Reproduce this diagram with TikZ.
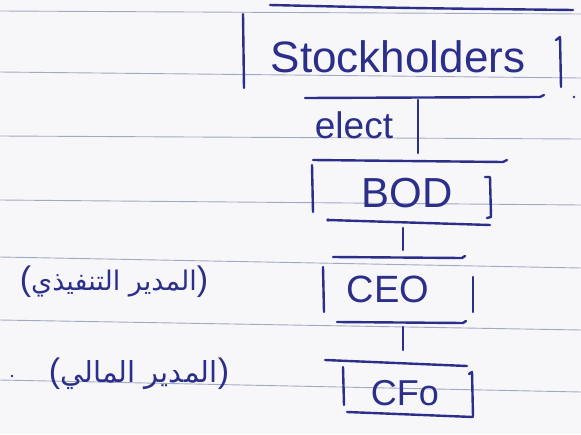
\documentclass[tikz,border=0pt]{standalone}
\usepackage{fontspec}
\setmainfont{Liberation Sans}
\newfontfamily\arabicfont[Script=Arabic]{DejaVu Sans}
\TeXXeTstate=1
\definecolor{ink}{HTML}{2B2F8A}
\definecolor{ruling}{HTML}{A3A8C2}
\definecolor{paper}{HTML}{F7F7F9}
\newcommand{\lpar}{{\rmfamily\fontsize{34}{36}\selectfont(}}
\newcommand{\rpar}{{\rmfamily\fontsize{34}{36}\selectfont)}}
\tikzset{
  inkline/.style={draw=ink, line width=2.4pt, line cap=round, line join=round},
  ruled/.style={draw=ruling, line width=0.9pt},
  hand/.style={text=ink, inner sep=0pt, anchor=base},
  arlabel/.style={text=ink, inner sep=0pt, anchor=center}
}
\begin{document}
\begin{tikzpicture}[x=1pt,y=-1pt]
\fill[paper] (0,0) rectangle (581,434);
\useasboundingbox (0,0) rectangle (581,434);
% notebook ruling
\draw[ruled] (0,11) -- (581,14);
\draw[ruled] (0,72) -- (581,78);
\draw[ruled] (0,136) -- (581,139);
\draw[ruled] (0,200) -- (581,205);
\draw[ruled] (0,257) -- (581,268);
\draw[ruled] (0,320) -- (581,330);
\draw[ruled] (0,380) -- (581,392);

% text nodes
\node[hand, font=\fontsize{44}{48}\selectfont] (sh) at (398,72) {Stockholders};
\node[hand, font=\fontsize{37}{40}\selectfont] (elect) at (354,138) {elect};
\node[hand, font=\fontsize{42}{46}\selectfont] (bod) at (407,207) {BOD};
\node[hand, font=\fontsize{38}{40}\selectfont] (ceo) at (388,302) {CEO};
\node[hand, font=\fontsize{36}{40}\selectfont] (cfo) at (405,405) {CFo};
\node[arlabel] (ar1) at (114,282) {\lpar{\arabicfont\fontsize{27}{30}\selectfont\beginR المدير التنفيذي\endR}\rpar};
\node[arlabel] (ar2) at (139,374) {\lpar{\arabicfont\fontsize{29}{32}\selectfont\beginR المدير المالي\endR}\rpar};
\fill[ink] (12,376) circle (1.4pt);

% Stockholders frame
\draw[inkline] (270,5) .. controls (400,8) .. (573,10);
\draw[inkline] (243,14) -- (244,88);
\draw[inkline] (556,40) -- (560,37) -- (561,87);
\draw[inkline] (305,98) -- (540,97) -- (544,95);
\fill[ink] (574,97) circle (1.3pt);

% BOD frame
\draw[inkline] (313,160) -- (503,162) -- (507,160);
\draw[inkline] (312,165) -- (313,212);
\draw[inkline] (485,177) -- (490,177) -- (491,217) -- (487,218);
\draw[inkline] (328,220) -- (490,225);
\fill[ink] (328,220) circle (1.8pt);

% CEO frame
\draw[inkline] (333,257) -- (462,258) -- (465,256);
\draw[inkline] (323,267) -- (324,312);
\draw[inkline] (473,277) -- (473,312);
\draw[inkline] (337,322) -- (463,323) -- (466,321);

% CFO frame
\draw[inkline] (325,360) -- (467,366);
\draw[inkline] (343,367) -- (344,405);
\draw[inkline] (469,374) -- (472,372) -- (473,416);
\draw[inkline] (347,412) -- (473,417);

% connectors
\coordinate (shdown) at (418,100);
\coordinate (bodup) at (418,153);
\coordinate (boddown) at (403,228);
\coordinate (ceoup) at (403,250);
\coordinate (ceodown) at (403,327);
\coordinate (cfoup) at (403,350);
\draw[inkline] (shdown) -- (bodup);
\draw[inkline] (boddown) -- (ceoup);
\draw[inkline] (ceodown) -- (cfoup);
\end{tikzpicture}
\end{document}
